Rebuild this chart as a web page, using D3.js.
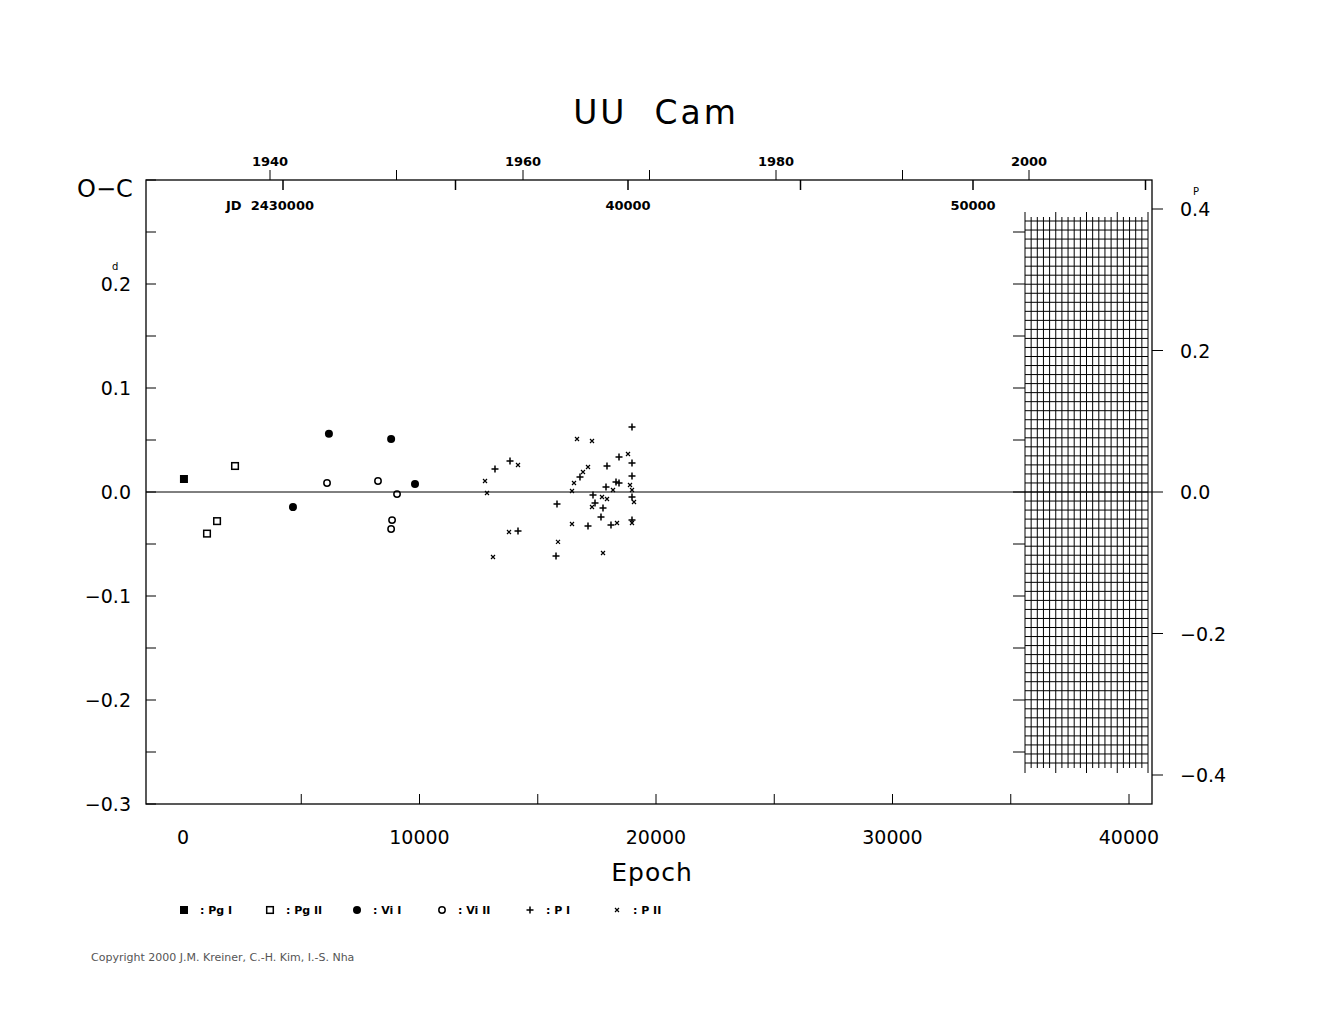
<!DOCTYPE html>
<html><head><meta charset="utf-8">
<script src="https://cdn.jsdelivr.net/npm/d3@7/dist/d3.min.js"></script>
<style>body{margin:0;background:#fff}text{font-family:"DejaVu Sans",Verdana,sans-serif;white-space:pre}</style>
</head><body><svg id="c" width="1325" height="1020"></svg>
<script>
const epochTicks=[0,10000,20000,30000,40000];
const ocTicks=[-0.3,-0.2,-0.1,0.0,0.1,0.2];
const phaseTicks=[-0.4,-0.2,0.0,0.2,0.4];
const yearTicks=[1940,1960,1980,2000];
const jdLabels=[[30000,"JD  2430000"],[40000,"40000"],[50000,"50000"]];
const PgI_E=[40], PgI_OC=[0.0125];
const PgII_E=[1015,1440,2200], PgII_OC=[-0.040,-0.028,0.025];
const VisI_E=[4650,6170,8800,9810], VisI_OC=[-0.0145,0.056,0.051,0.0077];
const VisII_E=[6090,8245,8840,8800,9050], VisII_OC=[0.0087,0.0106,-0.027,-0.0356,-0.002];
const PI_E=[13192,13827,14165,15814,15772,16786,17336,17421,17759,17674,17125,17886,17928,18097,18309,18436,18436,18985,18985,18985,18985,18985];
const PI_OC=[0.0221,0.0298,-0.0375,-0.0115,-0.0615,0.0144,-0.0029,-0.0106,-0.0154,-0.024,-0.0327,0.0048,0.025,-0.0317,0.0096,0.0087,0.0337,0.0625,0.0279,0.0154,-0.0048,-0.0269];
const PII_E=[12770,12854,13108,14165,13784,16660,17294,17125,16913,16533,16448,16448,15856,17294,17717,17928,18182,17759,18351,18816,18901,18985,19070,18985];
const PII_OC=[0.0106,-0.001,-0.0625,0.026,-0.0385,0.051,0.049,0.024,0.0192,0.0087,0.001,-0.0308,-0.048,-0.0144,-0.0048,-0.0067,0.0019,-0.0587,-0.0298,0.0365,0.0067,0.0019,-0.0096,-0.0298];
const legend=[["sqf",": Pg I"],["sqo",": Pg II"],["cf",": Vi I"],["co",": Vi II"],["plus",": P I"],["x",": P II"]];

const svg=d3.select("#c");
const L=146,R=1152,T=180,B=804;
const x=d3.scaleLinear().domain([0,40000]).range([183,1129]);
const y=d3.scaleLinear().domain([0,0.1]).range([492,388]);
const yp=d3.scaleLinear().domain([0,0.4]).range([492,209]);
const jd=d3.scaleLinear().domain([30000,40000]).range([283,628]);
const yr=d3.scaleLinear().domain([1940,1960]).range([270,523]);
const g=svg.append("g").attr("stroke","#000").attr("fill","none");
g.append("rect").attr("x",L).attr("y",T).attr("width",R-L).attr("height",B-T).attr("stroke-width",1.3);
g.append("line").attr("x1",L).attr("x2",R).attr("y1",y(0)).attr("y2",y(0));
d3.range(-0.3,0.301,0.05).forEach(v=>g.append("line").attr("x1",L).attr("x2",L+10).attr("y1",y(v)).attr("y2",y(v)));
d3.range(5000,40001,5000).forEach(v=>g.append("line").attr("x1",x(v)).attr("x2",x(v)).attr("y1",B).attr("y2",B-10));
phaseTicks.forEach(v=>g.append("line").attr("x1",R).attr("x2",R+11).attr("y1",yp(v)).attr("y2",yp(v)));
d3.range(1940,2011,10).forEach(v=>{if(yr(v)<=R)g.append("line").attr("x1",yr(v)).attr("x2",yr(v)).attr("y1",T).attr("y2",T-10);});
d3.range(30000,55001,5000).forEach(v=>g.append("line").attr("x1",jd(v)).attr("x2",jd(v)).attr("y1",T).attr("y2",T+10).attr("stroke-width",1.5));
const gx0=1025,gx1=1148,gy0=221,gy1=763;
const nv=20;
for(let i=0;i<=nv;i++){const xx=gx0+(gx1-gx0)*i/nv;const lng=i%5===0;
 g.append("line").attr("x1",xx).attr("x2",xx).attr("y1",lng?212:217).attr("y2",lng?773:768);}
const nh=60;
for(let j=0;j<=nh;j++){const yy=gy0+(gy1-gy0)*j/nh;g.append("line").attr("x1",gx0).attr("x2",gx1).attr("y1",yy).attr("y2",yy);}
d3.range(-0.25,0.26,0.05).forEach(v=>g.append("line").attr("x1",gx0-12).attr("x2",gx0).attr("y1",y(v)).attr("y2",y(v)));

const T_=(t,xx,yy,s,a,w)=>svg.append("text").attr("x",xx).attr("y",yy).attr("font-size",s).attr("text-anchor",a||"middle").attr("font-weight",w||"normal").text(t);
T_("UU  Cam",656,124,33).attr("letter-spacing",3);
T_("Epoch",652,881,25).attr("letter-spacing",1);
T_("O\u2212C",105,197,24);
epochTicks.forEach(v=>T_(String(v),x(v),844,19));
const fmt=v=>v===0?"0.0":(v<0?"\u2212"+Math.abs(v).toFixed(1):v.toFixed(1));
ocTicks.forEach(v=>T_(fmt(v),131,y(v)+7,19,"end"));
svg.append("text").attr("x",112).attr("y",y(0.2)-14).attr("font-size",10).text("d");
phaseTicks.forEach(v=>T_(fmt(v),1180,yp(v)+7,19,"start"));
svg.append("text").attr("x",1193).attr("y",yp(0.4)-14).attr("font-size",10).text("P");
yearTicks.forEach(v=>T_(String(v),yr(v),166,13,"middle","bold"));
jdLabels.forEach(([v,t])=>T_(t,v===30000?270:jd(v),210,13,"middle","bold"));
T_("Copyright 2000 J.M. Kreiner, C.-H. Kim, I.-S. Nha",91,961,11,"start").attr("fill","#555");

function sym(type,cx,cy){
 if(type==="sqf")svg.append("rect").attr("x",cx-4).attr("y",cy-4).attr("width",8).attr("height",8).attr("fill","#000");
 if(type==="sqo")svg.append("rect").attr("x",cx-3.3).attr("y",cy-3.3).attr("width",6.6).attr("height",6.6).attr("fill","none").attr("stroke","#000").attr("stroke-width",1.5);
 if(type==="cf")svg.append("circle").attr("cx",cx).attr("cy",cy).attr("r",4).attr("fill","#000");
 if(type==="co")svg.append("circle").attr("cx",cx).attr("cy",cy).attr("r",3.2).attr("fill","none").attr("stroke","#000").attr("stroke-width",1.5);
 if(type==="plus")svg.append("path").attr("d",`M${cx-3.5},${cy}H${cx+3.5}M${cx},${cy-3.5}V${cy+3.5}`).attr("stroke","#000").attr("stroke-width",1.5);
 if(type==="x")svg.append("path").attr("d",`M${cx-2},${cy-2}L${cx+2},${cy+2}M${cx-2},${cy+2}L${cx+2},${cy-2}`).attr("stroke","#000").attr("stroke-width",1.2);
}
[["sqf",PgI_E,PgI_OC],["sqo",PgII_E,PgII_OC],["cf",VisI_E,VisI_OC],["co",VisII_E,VisII_OC],["plus",PI_E,PI_OC],["x",PII_E,PII_OC]]
 .forEach(([t,E,O])=>E.forEach((e,i)=>sym(t,x(e),y(O[i]))));
const lx=[184,270,357,442,530,617];
legend.forEach(([t,l],i)=>{sym(t,lx[i],910);T_(l,lx[i]+16,914,11,"start","bold");});
</script></body></html>
